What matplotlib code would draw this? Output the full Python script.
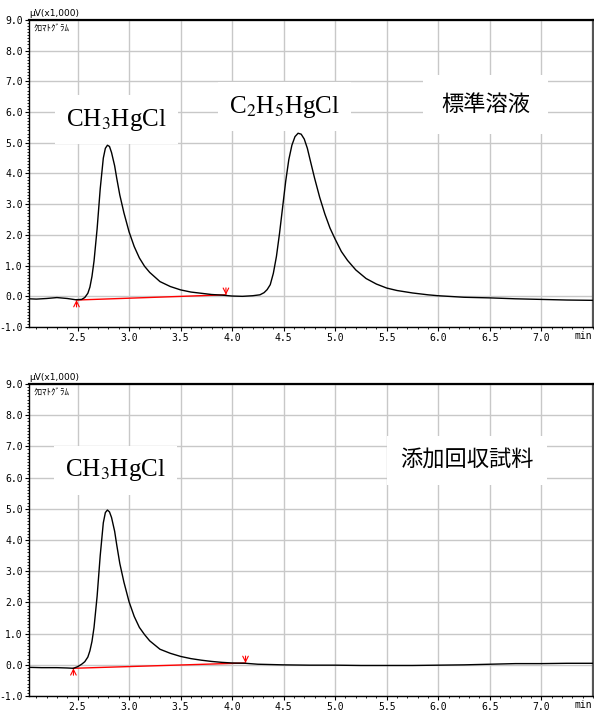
import numpy as np
import matplotlib
matplotlib.use("Agg")
import matplotlib.pyplot as plt
from matplotlib.ticker import MultipleLocator, FixedLocator

plt.rcParams['mathtext.fontset'] = 'stix'

# standard solution trace (time min, signal uV x1000)
std_t = [2.03, 2.10, 2.20, 2.30, 2.40, 2.48, 2.54, 2.57, 2.60, 2.62, 2.64, 2.66, 2.69,
         2.72, 2.75, 2.77, 2.79, 2.81, 2.83, 2.86, 2.88, 2.91, 2.95, 3.00, 3.05, 3.10,
         3.15, 3.20, 3.30, 3.40, 3.50, 3.60, 3.70, 3.80, 3.90, 4.00, 4.10, 4.20, 4.27,
         4.31, 4.34, 4.37, 4.40, 4.43, 4.46, 4.49, 4.52, 4.55, 4.58, 4.61, 4.64, 4.67,
         4.70, 4.73, 4.76, 4.80, 4.85, 4.90, 4.95, 5.00, 5.06, 5.12, 5.20, 5.30, 5.40,
         5.50, 5.60, 5.75, 5.90, 6.00, 6.25, 6.50, 6.75, 7.00, 7.25, 7.50]
std_v = [-0.08, -0.09, -0.07, -0.04, -0.07, -0.11, -0.10, -0.04, 0.10, 0.30, 0.65, 1.15, 2.20,
         3.50, 4.50, 4.82, 4.92, 4.88, 4.68, 4.25, 3.85, 3.30, 2.72, 2.10, 1.62, 1.25,
         0.98, 0.78, 0.48, 0.32, 0.21, 0.14, 0.10, 0.06, 0.04, 0.01, 0.00, 0.02, 0.05,
         0.12, 0.22, 0.38, 0.75, 1.30, 2.05, 2.90, 3.75, 4.45, 4.92, 5.20, 5.31, 5.28,
         5.12, 4.82, 4.40, 3.85, 3.22, 2.68, 2.22, 1.86, 1.46, 1.17, 0.86, 0.58, 0.40,
         0.27, 0.19, 0.11, 0.05, 0.02, -0.03, -0.05, -0.08, -0.10, -0.12, -0.13]

# spiked sample trace
spk_t = [2.03, 2.15, 2.30, 2.40, 2.46, 2.50, 2.54, 2.57, 2.60, 2.62, 2.64, 2.66, 2.69,
         2.72, 2.75, 2.77, 2.79, 2.81, 2.83, 2.86, 2.88, 2.91, 2.95, 3.00, 3.05, 3.10,
         3.15, 3.20, 3.30, 3.40, 3.50, 3.60, 3.70, 3.80, 3.90, 4.00, 4.13, 4.25, 4.50,
         4.75, 5.00, 5.25, 5.50, 5.75, 6.00, 6.25, 6.50, 6.75, 7.00, 7.25, 7.50]
spk_v = [-0.08, -0.09, -0.09, -0.10, -0.11, -0.06, 0.02, 0.10, 0.25, 0.45, 0.75, 1.20, 2.20,
         3.50, 4.55, 4.88, 4.96, 4.90, 4.72, 4.28, 3.85, 3.25, 2.65, 2.02, 1.55, 1.20,
         0.97, 0.77, 0.50, 0.37, 0.27, 0.20, 0.15, 0.11, 0.08, 0.06, 0.05, 0.02, 0.00,
         -0.01, -0.01, -0.02, -0.02, -0.02, -0.01, 0.00, 0.02, 0.04, 0.04, 0.05, 0.05]

# integration baselines (start, end)
std_base_t = [2.49, 3.94]
std_base_v = [-0.12, 0.05]
spk_base_t = [2.46, 4.13]
spk_base_v = [-0.11, 0.06]

xticks = [2.5, 3.0, 3.5, 4.0, 4.5, 5.0, 5.5, 6.0, 6.5, 7.0]
yticks = [-1.0, 0.0, 1.0, 2.0, 3.0, 4.0, 5.0, 6.0, 7.0, 8.0, 9.0]

fig = plt.figure(figsize=(5.94, 7.11), dpi=100)
ax1 = fig.add_axes([0.049, 0.540, 0.949, 0.432])
ax2 = fig.add_axes([0.049, 0.021, 0.949, 0.439])

mono = 'DejaVu Sans Mono'
serif = 'Liberation Serif'
cjk = ['Noto Sans CJK JP', 'DejaVu Sans']


def setup(ax):
    ax.set_xlim(2.03, 7.5)
    ax.set_ylim(-1.0, 9.0)
    ax.xaxis.set_major_locator(FixedLocator(xticks))
    ax.xaxis.set_minor_locator(MultipleLocator(0.1))
    ax.yaxis.set_major_locator(FixedLocator(yticks))
    ax.yaxis.set_minor_locator(MultipleLocator(0.1))
    ax.set_xticklabels(['%.1f' % v for v in xticks], fontsize=7, family=mono)
    ax.set_yticklabels(['%.1f' % v for v in yticks], fontsize=7, family=mono)
    ax.tick_params(which='major', length=3, width=0.8, pad=1.5)
    ax.tick_params(which='minor', length=1.5, width=0.6)
    ax.grid(True, which='major', color='#c8c8c8', lw=1.0)
    ax.set_axisbelow(True)
    for s in ['left', 'bottom']:
        ax.spines[s].set_linewidth(1.0)
    ax.spines['top'].set_linewidth(1.6)
    ax.spines['right'].set_linewidth(1.6)
    ax.spines['right'].set_color('#555555')
    ax.text(0.0, 1.005, u'\u03bcV(x1,000)', transform=ax.transAxes, fontsize=6.5,
            ha='left', va='bottom', family='DejaVu Sans')
    ax.text(0.008, 0.985, u'\uff78\uff9b\uff8f\uff84\uff78\uff9e\uff97\uff91', transform=ax.transAxes,
            fontsize=6.5, ha='left', va='top', family=cjk)
    ax.text(0.998, -0.012, 'min', transform=ax.transAxes, fontsize=7, family=mono,
            ha='right', va='top')


def baseline(ax, bt, bv):
    ax.plot(bt, bv, color='red', lw=1.0, zorder=3)
    ax.annotate('', xy=(bt[0], bv[0]), xytext=(0, -5), textcoords='offset points',
                arrowprops=dict(arrowstyle='->', color='red', lw=0.8, shrinkA=0, shrinkB=0))
    ax.annotate('', xy=(bt[1], bv[1]), xytext=(0, 5), textcoords='offset points',
                arrowprops=dict(arrowstyle='->', color='red', lw=0.8, shrinkA=0, shrinkB=0))


box = dict(facecolor='white', edgecolor='none', boxstyle='square,pad=0.45')

setup(ax1)
ax1.plot(std_t, std_v, color='black', lw=1.0, zorder=4)
baseline(ax1, std_base_t, std_base_v)
ax1.text(2.88, 5.75, r'CH$_3$HgCl', fontsize=18, family=serif, ha='center', va='center', bbox=box)
ax1.text(4.51, 6.18, r'C$_2$H$_5$HgCl', fontsize=18, family=serif, ha='center', va='center', bbox=box)
ax1.text(6.46, 6.24, u'標準溶液', fontsize=16, family=cjk, ha='center', va='center',
         bbox=dict(facecolor='white', edgecolor='none', boxstyle='square,pad=0.8'))

setup(ax2)
ax2.plot(spk_t, spk_v, color='black', lw=1.0, zorder=4)
baseline(ax2, spk_base_t, spk_base_v)
ax2.text(2.87, 6.23, r'CH$_3$HgCl', fontsize=18, family=serif, ha='center', va='center', bbox=box)
ax2.text(6.28, 6.55, u'添加回収試料', fontsize=16, family=cjk, ha='center', va='center',
         bbox=dict(facecolor='white', edgecolor='none', boxstyle='square,pad=0.6'))

fig.savefig("out.png", dpi=100)
